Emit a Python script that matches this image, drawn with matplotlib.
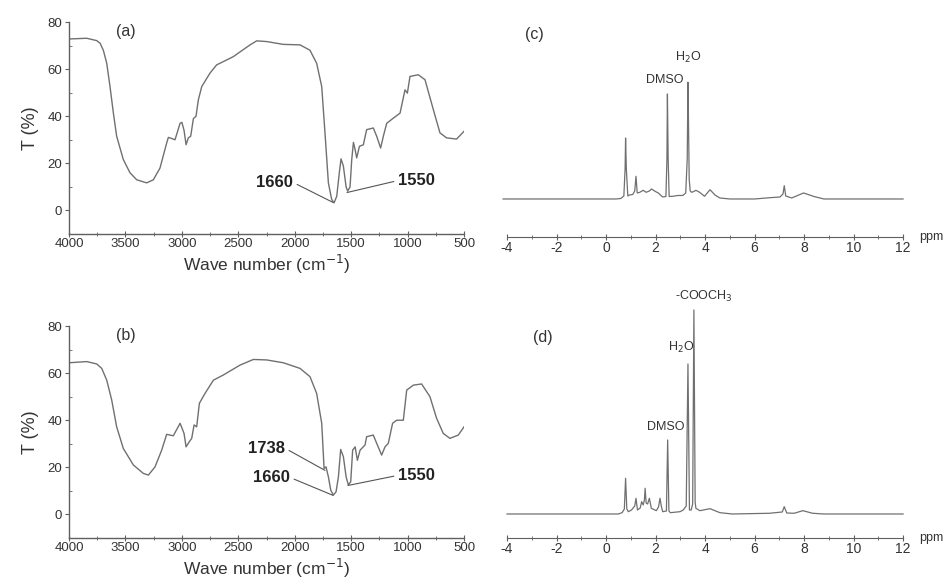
import matplotlib
matplotlib.use("Agg")
import matplotlib.pyplot as plt
from matplotlib.ticker import MultipleLocator

plt.rcParams['font.family'] = ['Liberation Sans', 'DejaVu Sans']
plt.rcParams['axes.unicode_minus'] = False

# ---------------- IR spectrum (a) ----------------
ir_a_wn = [4000, 3843, 3755, 3725, 3696, 3666, 3637, 3607, 3578, 3519, 3460, 3400, 3312,
           3253, 3194, 3135, 3120, 3105, 3061, 3016, 3000, 2981, 2963, 2943, 2922, 2898,
           2875, 2854, 2824, 2751, 2692, 2544, 2396, 2337, 2249, 2101, 1953, 1865, 1806,
           1761, 1732, 1702, 1673, 1652, 1628, 1605, 1590, 1569, 1545, 1531, 1510, 1495,
           1480, 1465, 1451, 1427, 1392, 1363, 1304, 1274, 1239, 1215, 1185, 1126, 1067,
           1023, 1002, 979, 905, 846, 772, 713, 654, 566, 500]
ir_a_T = [72.8, 73.1, 72.1, 71.0, 68.0, 62.5, 52.6, 41.3, 31.5, 21.6, 16.0, 13.0, 11.7,
          13.0, 18.0, 28.6, 31.0, 30.8, 30.0, 37.0, 37.4, 34.0, 27.9, 30.8, 31.5, 39.0,
          40.0, 47.0, 52.6, 58.3, 61.8, 65.3, 70.3, 72.0, 71.7, 70.5, 70.3, 68.0, 62.5,
          52.6, 32.9, 11.7, 4.7, 3.2, 6.0, 16.0, 21.9, 18.8, 10.0, 8.2, 10.0, 21.6,
          28.9, 25.8, 22.3, 27.2, 27.9, 34.3, 35.0, 31.5, 26.5, 31.5, 37.0, 39.2, 41.3,
          51.2, 49.8, 56.9, 57.6, 55.5, 42.8, 32.9, 30.8, 30.3, 33.6]

# ---------------- IR spectrum (b) ----------------
ir_b_wn = [4000, 3843, 3755, 3710, 3666, 3622, 3578, 3519, 3430, 3341, 3297, 3238, 3179,
           3135, 3076, 3016, 2981, 2963, 2934, 2913, 2892, 2869, 2845, 2795, 2721, 2633,
           2485, 2367, 2249, 2101, 1953, 1865, 1806, 1761, 1740, 1723, 1702, 1681, 1658,
           1634, 1613, 1593, 1569, 1545, 1525, 1504, 1487, 1465, 1445, 1421, 1377, 1363,
           1304, 1274, 1230, 1200, 1171, 1133, 1097, 1038, 1008, 949, 876, 802, 743, 684,
           625, 551, 500]
ir_b_T = [64.4, 64.9, 63.9, 62.0, 57.0, 48.6, 37.2, 28.0, 21.0, 17.4, 16.7, 20.2, 27.3,
          34.0, 33.4, 38.7, 34.4, 28.7, 30.9, 32.3, 38.0, 37.2, 47.2, 51.4, 57.0, 59.2,
          63.4, 65.8, 65.6, 64.4, 62.0, 58.5, 51.4, 38.7, 19.5, 20.2, 16.0, 10.3, 8.2,
          9.6, 16.0, 27.6, 24.5, 16.0, 12.5, 13.9, 27.3, 28.7, 23.0, 27.3, 29.5, 33.0,
          33.7, 30.2, 25.2, 28.7, 30.2, 38.7, 40.0, 40.0, 52.8, 54.9, 55.4, 50.0, 40.8,
          34.4, 32.3, 33.7, 37.2]

# annotations: label, peak wn, peak T, text wn, text T, side
ir_a_notes = [("1660", 1661, 3.4, 2015, 11.9, "right"),
              ("1550", 1537, 7.6, 1085, 12.7, "left")]
ir_b_notes = [("1738", 1732, 18.7, 2086, 28.1, "right"),
              ("1660", 1661, 8.1, 2042, 15.7, "right"),
              ("1550", 1528, 12.3, 1085, 16.6, "left")]

# ---------------- NMR spectrum (c) ----------------
nmr_c_ppm = [-4.16, 0.40, 0.60, 0.72, 0.77, 0.79, 0.82, 0.88, 0.95, 1.08, 1.16, 1.21,
             1.26, 1.35, 1.50, 1.62, 1.75, 1.84, 1.98, 2.11, 2.29, 2.42, 2.46, 2.48,
             2.51, 2.55, 2.70, 2.90, 3.10, 3.22, 3.28, 3.31, 3.33, 3.36, 3.40, 3.46,
             3.55, 3.63, 3.78, 3.98, 4.20, 4.40, 4.60, 5.00, 6.00, 6.63, 7.03, 7.15,
             7.20, 7.26, 7.50, 7.98, 8.40, 8.80, 12.0]
nmr_c_int = [0.0, 0.0, 0.5, 3.0, 30.0, 61.0, 30.0, 3.0, 4.0, 4.5, 8.0, 22.7,
             6.0, 6.5, 8.7, 6.7, 8.0, 10.0, 7.7, 6.0, 2.0, 2.5, 40.0, 105.0,
             40.0, 2.5, 2.7, 3.5, 3.5, 6.0, 40.0, 116.7, 80.0, 20.0, 8.0, 6.7,
             7.5, 8.7, 6.7, 2.7, 9.3, 4.0, 1.0, 0.0, 0.0, 1.3, 2.0, 5.0,
             13.3, 3.0, 1.0, 6.0, 2.5, 0.0, 0.0]

# ---------------- NMR spectrum (d) ----------------
nmr_d_ppm = [-4.0, 0.50, 0.65, 0.74, 0.79, 0.84, 0.90, 1.03, 1.16, 1.21, 1.27, 1.38,
             1.44, 1.50, 1.55, 1.58, 1.62, 1.68, 1.75, 1.83, 2.03, 2.12, 2.18, 2.24,
             2.29, 2.44, 2.49, 2.54, 2.60, 2.99, 3.12, 3.24, 3.31, 3.37, 3.44, 3.50,
             3.55, 3.60, 3.63, 3.79, 4.20, 4.60, 5.10, 6.60, 7.12, 7.20, 7.30, 7.60,
             7.95, 8.35, 8.80, 12.0]
nmr_d_int = [0.0, 0.0, 1.3, 5.0, 35.7, 5.0, 2.3, 4.0, 8.0, 15.7, 4.0, 6.0,
             12.3, 9.0, 14.0, 25.7, 11.0, 10.0, 15.7, 5.7, 3.3, 7.0, 15.7, 7.0,
             2.3, 3.0, 74.0, 3.0, 1.3, 2.3, 4.0, 8.0, 150.0, 4.0, 4.0, 10.0,
             204.0, 12.0, 5.7, 3.3, 5.3, 1.3, 0.0, 0.7, 2.0, 7.3, 1.0, 0.7,
             3.3, 0.7, 0.0, 0.0]

nmr_c_labels = [("DMSO", 2.38, 119), ("H$_2$O", 3.33, 142)]
nmr_d_labels = [("DMSO", 2.41, 87), ("H$_2$O", 3.03, 167), ("-COOCH$_3$", 3.96, 218)]

line_color = "#707070"
spine_color = "#606060"

fig = plt.figure(figsize=(9.47, 5.87), dpi=100)


def ir_panel(rect, wn, T, notes, tag):
    ax = fig.add_axes(rect)
    ax.plot(wn, T, color=line_color, lw=1.0)
    ax.set_xlim(4000, 500)
    ax.set_ylim(-10, 80)
    for s in ("top", "right"):
        ax.spines[s].set_visible(False)
    for s in ("left", "bottom"):
        ax.spines[s].set_color(spine_color)
        ax.spines[s].set_linewidth(1.0)
    ax.spines["left"].set_bounds(-10, 80)
    ax.set_yticks([0, 20, 40, 60, 80])
    ax.set_xticks([4000, 3500, 3000, 2500, 2000, 1500, 1000, 500])
    ax.xaxis.set_minor_locator(MultipleLocator(250))
    ax.yaxis.set_minor_locator(MultipleLocator(10))
    ax.tick_params(axis="y", which="major", direction="out", length=3, color=spine_color,
                   labelsize=9.5, pad=2, labelcolor="#333333")
    ax.tick_params(axis="y", which="minor", direction="in", length=2, color=spine_color)
    ax.tick_params(axis="x", which="major", direction="inout", length=4, color=spine_color,
                   labelsize=9.5, pad=1, labelcolor="#333333")
    ax.tick_params(axis="x", which="minor", direction="inout", length=3, color=spine_color)
    ax.set_ylabel("T (%)", fontsize=13, color="#333333", labelpad=6)
    ax.set_xlabel("Wave number (cm$^{-1}$)", fontsize=12.5, color="#333333", labelpad=2)
    ax.text(3500, 76, tag, fontsize=11.5, color="#333333", ha="center", va="center")
    for lab, px, py, tx, ty, side in notes:
        ax.annotate(lab, xy=(px, py), xytext=(tx, ty), ha=side, va="center",
                    fontsize=12, fontweight="bold", color="#222222",
                    arrowprops=dict(arrowstyle="-", color="#555555", lw=0.8,
                                    shrinkA=1, shrinkB=0,
                                    relpos=(1, 0.5) if side == "right" else (0, 0.5)))
    return ax


def nmr_panel(rect, ppm, inten, ylim, labels, tag, tagpos):
    ax = fig.add_axes(rect)
    ax.plot(ppm, inten, color=line_color, lw=0.9, clip_on=False)
    ax.set_xlim(-4, 12)
    ax.set_ylim(*ylim)
    for s in ("top", "right", "left"):
        ax.spines[s].set_visible(False)
    ax.spines["bottom"].set_color(spine_color)
    ax.set_yticks([])
    ax.set_xticks(range(-4, 13, 2))
    ax.xaxis.set_minor_locator(MultipleLocator(1))
    ax.tick_params(axis="x", which="major", direction="inout", length=4, color=spine_color,
                   labelsize=10, pad=1, labelcolor="#333333")
    ax.tick_params(axis="x", which="minor", direction="inout", length=3, color=spine_color)
    ax.text(1.04, 0.0, "ppm", transform=ax.transAxes, fontsize=9, color="#333333",
            ha="left", va="center")
    for lab, x, y in labels:
        ax.text(x, y, lab, fontsize=9, color="#333333", ha="center", va="center")
    ax.text(tagpos[0], tagpos[1], tag, fontsize=11.5, color="#333333", ha="center",
            va="center")
    return ax


ir_panel([0.0729, 0.6014, 0.4171, 0.3611], ir_a_wn, ir_a_T, ir_a_notes, "(a)")
ir_panel([0.0729, 0.0835, 0.4171, 0.3611], ir_b_wn, ir_b_T, ir_b_notes, "(b)")
nmr_panel([0.5354, 0.5963, 0.4182, 0.3662], nmr_c_ppm, nmr_c_int, (-38, 177),
          nmr_c_labels, "(c)", (-2.88, 165))
nmr_panel([0.5354, 0.0835, 0.4182, 0.4055], nmr_d_ppm, nmr_d_int, (-24, 214),
          nmr_d_labels, "(d)", (-2.57, 176))

fig.savefig("out.png", dpi=100)
